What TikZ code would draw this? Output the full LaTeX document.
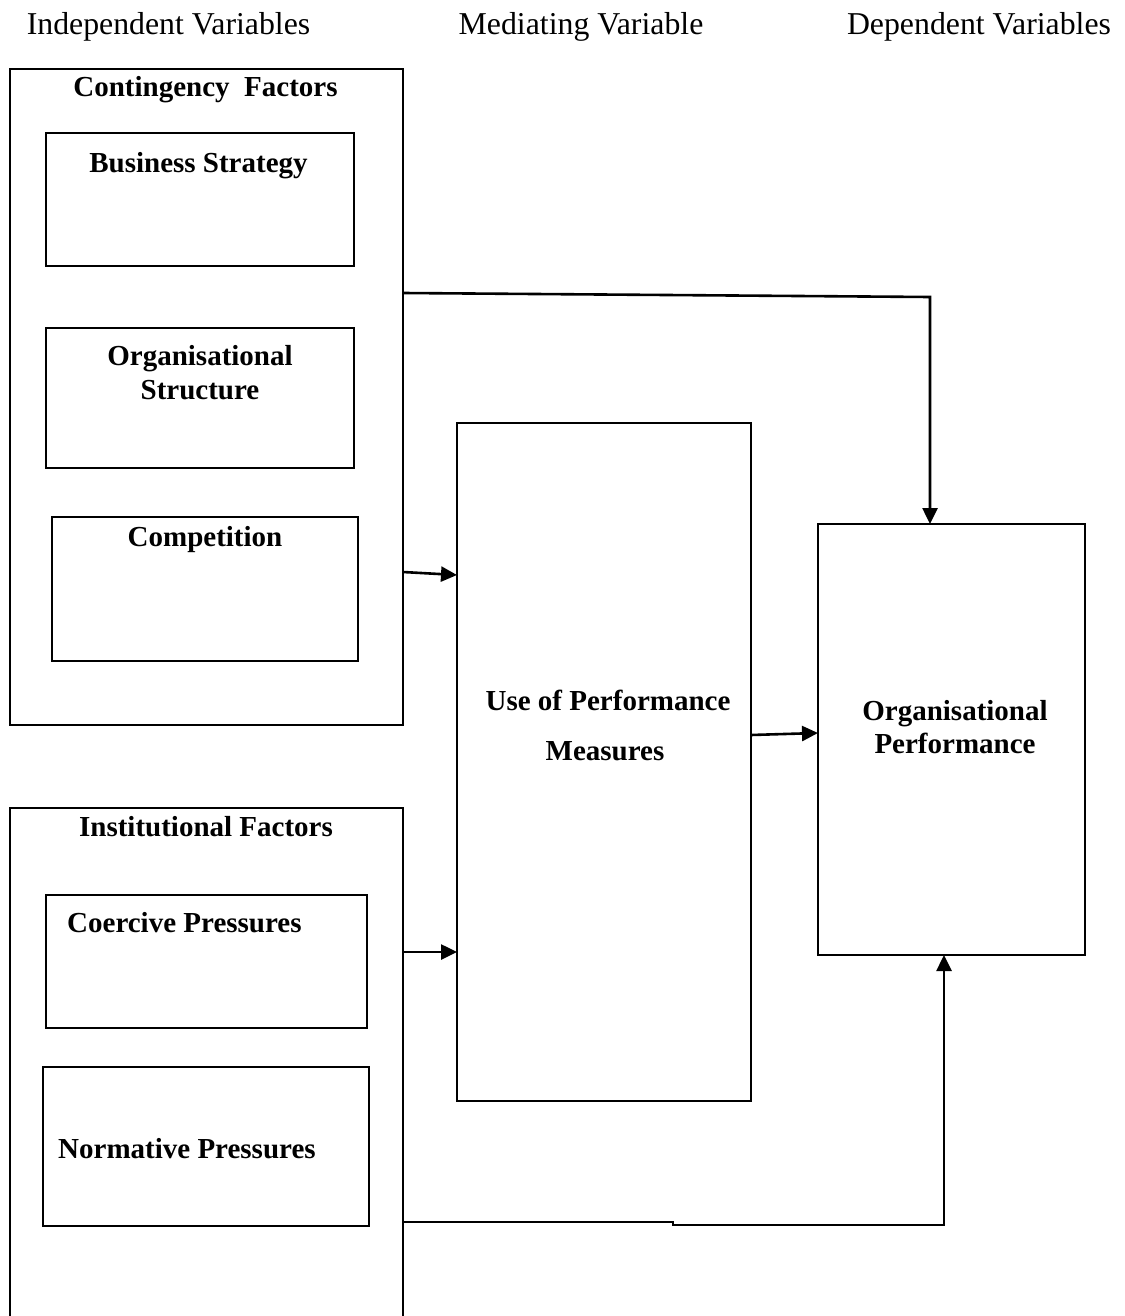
\documentclass[tikz,border=0pt]{standalone}
\usepackage{fontspec}
\setmainfont{Liberation Serif}
\usetikzlibrary{arrows.meta}
\begin{document}
\begin{tikzpicture}[x=1pt,y=-1pt,
  frame/.style={draw, line width=2.6pt, rectangle, inner sep=0pt, outer sep=0pt},
  head/.style={anchor=base, font=\fontsize{31.8}{36}\selectfont, inner sep=0pt},
  lbl/.style={anchor=base, font=\fontsize{29}{33}\selectfont\bfseries, inner sep=0pt},
  lblw/.style={lbl, anchor=base west},
  link/.style={line width=2.6pt, -{Triangle[length=16pt,width=15pt]}},
]
\path[use as bounding box, clip] (0,0) rectangle (1124,1316);

% column headings
\node[head] (h1) at (168.5,35) {Independent Variables};
\node[head] (h2) at (581,35) {Mediating Variable};
\node[head] (h3) at (979,35) {Dependent Variables};

% contingency factors group
\node[frame, minimum width=393, minimum height=656] (cont) at (206.5,397) {};
\node[lbl] (contT) at (205.5,97) {Contingency\ \ Factors};
\node[frame, minimum width=308, minimum height=133] (bs) at (200,199.5) {};
\node[lbl] (bsT) at (198.5,172) {Business Strategy};
\node[frame, minimum width=308, minimum height=140] (os) at (200,398) {};
\node[lbl] (osT1) at (200,365) {Organisational};
\node[lbl] (osT2) at (200,399) {Structure};
\node[frame, minimum width=306, minimum height=144] (comp) at (205,589) {};
\node[lbl] (compT) at (205,546) {Competition};

% institutional factors group (runs past the lower edge)
\node[frame, minimum width=393, minimum height=532] (inst) at (206.5,1074) {};
\node[lbl] (instT) at (206,836) {Institutional Factors};
\node[frame, minimum width=321, minimum height=133] (coer) at (206.5,961.5) {};
\node[lblw] (coerT) at (67,932) {Coercive Pressures};
\node[frame, minimum width=326, minimum height=159] (norm) at (206,1146.5) {};
\node[lblw] (normT) at (58,1158) {Normative Pressures};

% mediating variable
\node[frame, minimum width=294, minimum height=678] (use) at (604,762) {};
\node[lbl] (useT1) at (608,710) {Use of Performance};
\node[lbl] (useT2) at (605,760) {Measures};

% dependent variable
\node[frame, minimum width=267, minimum height=431] (op) at (951.5,739.5) {};
\node[lbl] (opT1) at (955,720) {Organisational};
\node[lbl] (opT2) at (955,753) {Performance};

% routing points
\coordinate (y1) at (0,293);
\coordinate (c1) at (930,297);
\coordinate (y2) at (0,572);
\coordinate (y3) at (0,575);
\coordinate (y4) at (0,735);
\coordinate (y5) at (0,733);
\coordinate (y6) at (0,952);
\coordinate (y7) at (0,1222);
\coordinate (j1) at (673,1222);
\coordinate (j2) at (673,1225);
\coordinate (c2) at (944,1225);

% connectors
\draw[link] (cont.east |- y1) -- (c1) -- (c1 |- op.north);
\draw[link] (cont.east |- y2) -- (use.west |- y3);
\draw[link] (use.east |- y4) -- (op.west |- y5);
\draw[link] (inst.east |- y6) -- (use.west |- y6);
\draw[link] (inst.east |- y7) -- (j1) -- (j2) -- (c2) -- (c2 |- op.south);
\end{tikzpicture}
\end{document}
